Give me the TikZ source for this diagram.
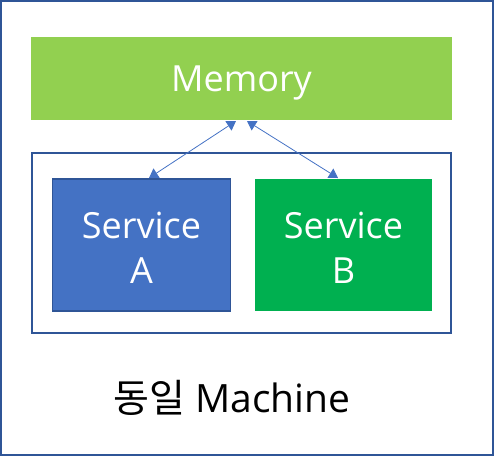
\documentclass[tikz,border=0pt]{standalone}
\usepackage{fontspec}
\setmainfont{Open Sans}
\newfontfamily\krfont{Noto Sans CJK KR}
\usetikzlibrary{arrows.meta}
\definecolor{frameblue}{HTML}{2F5597}
\definecolor{memgreen}{HTML}{92D050}
\definecolor{svcblue}{HTML}{4472C4}
\definecolor{svcgreen}{HTML}{00B050}
\begin{document}
\begin{tikzpicture}[x=1pt,y=-1pt,
  boxtext/.style={text=white,font=\fontsize{36}{45}\selectfont,align=center},
  conn/.style={draw=svcblue,line width=0.8pt,{Triangle[width=11pt,length=9pt]}-{Triangle[width=11pt,length=9pt]}}]
\useasboundingbox (0,0) rectangle (494,456);
\draw[frameblue,line width=2pt] (1,1) rectangle (493,455);
\fill[memgreen] (31,37) rectangle (452,120);
\node[boxtext] (mem) at (241.5,83) {Memory};
\coordinate (memL) at (236,121);
\coordinate (memR) at (247,121);
\draw[frameblue,line width=1.5pt] (32,153) rectangle (451,333);
\node[draw=frameblue,line width=1.5pt,fill=svcblue,minimum width=178pt,minimum height=132pt,inner sep=0pt] (sa) at (141.5,245) {};
\node[boxtext] at ([yshift=-3pt]sa.center) {Service\\A};
\node[fill=svcgreen,minimum width=177pt,minimum height=132pt,inner sep=0pt] (sb) at (343.5,245) {};
\node[boxtext] at ([yshift=-3pt]sb.center) {Service\\B};
\coordinate (saT) at (149,178);
\coordinate (sbT) at (338,178);
\draw[conn] (saT) -- (memL);
\draw[conn] (sbT) -- (memR);
\node[font=\fontsize{39}{46}\selectfont] (lbl) at (232,398) {{\krfont 동일} Machine};
\end{tikzpicture}
\end{document}
